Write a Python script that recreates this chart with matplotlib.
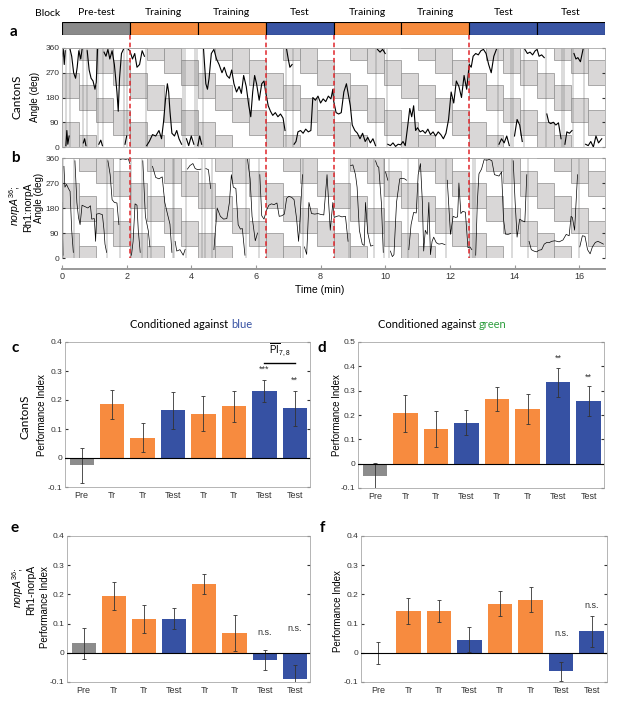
import numpy as np
import matplotlib.pyplot as plt
import matplotlib.transforms as mtransforms
from matplotlib.patches import Rectangle
from matplotlib.lines import Line2D

plt.rcParams['font.family'] = ['Liberation Sans', 'DejaVu Sans']
plt.rcParams['mathtext.fontset'] = 'custom'
plt.rcParams['mathtext.rm'] = 'Liberation Sans'
plt.rcParams['mathtext.it'] = 'Liberation Sans:italic'

# ---- data ----
block_names = ['Pre-test', 'Training', 'Training', 'Test', 'Training', 'Training', 'Test', 'Test']
block_kind = ['pre', 'tr', 'tr', 'test', 'tr', 'tr', 'test', 'test']
block_len = 2.1          # minutes per block
switch_times = [2.1, 6.3, 8.4, 12.6]
time_ticks = [0, 2, 4, 6, 8, 10, 12, 14, 16]
angle_ticks = [0, 90, 180, 270, 360]
n_cols = 32              # background pattern columns
step_deg = 45            # pattern shift per column

# fly heading traces (time min, angle deg)
trace_a = [
    (0.00, 330), (0.04, 355), (0.07, 300), (0.10, 350), (0.12, 5), (0.15, 60), (0.18, 10), (0.22, 40),
    (0.25, 355), (0.30, 330), (0.36, 270), (0.42, 250), (0.47, 290), (0.52, 350), (0.58, 320), (0.62, 355),
    (0.66, 15), (0.70, 30), (0.74, 5), (0.78, 350), (0.84, 280), (0.90, 250), (0.96, 240), (1.02, 210),
    (1.06, 235), (1.10, 355), (1.14, 10), (1.20, 25), (1.25, 5), (1.30, 345), (1.36, 330), (1.42, 355),
    (1.48, 320), (1.55, 350), (1.62, 300), (1.70, 200), (1.74, 130), (1.78, 250), (1.84, 340), (1.90, 355),
    (1.95, 10), (2.00, 40), (2.05, 355),
    (2.10, 350), (2.18, 320), (2.25, 340), (2.32, 290), (2.40, 300), (2.48, 350), (2.55, 330), (2.62, 5),
    (2.70, 20), (2.80, 45), (2.90, 40), (3.00, 60), (3.08, 30), (3.14, 90), (3.20, 170), (3.26, 230),
    (3.30, 200), (3.34, 130), (3.40, 50), (3.48, 40), (3.55, 60), (3.62, 30), (3.70, 10), (3.78, 355),
    (3.85, 30), (3.92, 5), (4.00, 40), (4.08, 10), (4.15, 355),
    (4.20, 5), (4.26, 40), (4.32, 10), (4.38, 355), (4.45, 230), (4.50, 210), (4.55, 250), (4.62, 340),
    (4.70, 355), (4.78, 320), (4.86, 300), (4.95, 270), (5.02, 290), (5.10, 260), (5.18, 250), (5.25, 280),
    (5.32, 230), (5.40, 200), (5.48, 220), (5.55, 195), (5.62, 260), (5.70, 220), (5.78, 150), (5.84, 110),
    (5.90, 200), (5.96, 260), (6.02, 230), (6.10, 170), (6.18, 230), (6.25, 240),
    (6.30, 200), (6.38, 150), (6.45, 130), (6.52, 115), (6.60, 125), (6.68, 110), (6.76, 120), (6.84, 105),
    (6.90, 60), (6.95, 355), (7.00, 320), (7.05, 290), (7.12, 300), (7.18, 10), (7.24, 20), (7.30, 55),
    (7.38, 60), (7.46, 50), (7.54, 65), (7.62, 55), (7.70, 60), (7.76, 180), (7.84, 170), (7.92, 185),
    (8.00, 160), (8.08, 175), (8.16, 165), (8.24, 185), (8.32, 175), (8.38, 210),
    (8.40, 170), (8.48, 125), (8.56, 120), (8.64, 125), (8.72, 200), (8.80, 230), (8.86, 190), (8.92, 150),
    (8.98, 80), (9.06, 60), (9.14, 50), (9.22, 30), (9.30, 50), (9.38, 20), (9.46, 35), (9.54, 15),
    (9.62, 30), (9.70, 5), (9.76, 355), (9.84, 345), (9.92, 355), (10.00, 340), (10.08, 10), (10.16, 5),
    (10.24, 15), (10.32, 2), (10.40, 10), (10.48, 8),
    (10.55, 20), (10.62, 5), (10.70, 80), (10.76, 140), (10.82, 110), (10.88, 150), (10.94, 60), (11.00, 70),
    (11.08, 55), (11.16, 60), (11.24, 50), (11.32, 65), (11.40, 45), (11.48, 55), (11.56, 40), (11.64, 55),
    (11.72, 45), (11.80, 30), (11.88, 50), (11.96, 100), (12.04, 200), (12.12, 160), (12.20, 240), (12.28, 220),
    (12.36, 180), (12.44, 260), (12.52, 210),
    (12.60, 300), (12.66, 290), (12.72, 330), (12.80, 340), (12.88, 335), (12.96, 350), (13.04, 355), (13.12, 340),
    (13.20, 300), (13.28, 270), (13.36, 330), (13.44, 355), (13.52, 10), (13.60, 30), (13.68, 15), (13.76, 40),
    (13.84, 5), (13.92, 355), (14.00, 40), (14.08, 100), (14.16, 80), (14.24, 20), (14.32, 355), (14.40, 340),
    (14.48, 345), (14.56, 335), (14.64, 350),
    (14.70, 355), (14.76, 330), (14.84, 335), (14.92, 325), (15.00, 120), (15.06, 90), (15.12, 85), (15.20, 90),
    (15.28, 80), (15.36, 88), (15.44, 30), (15.50, 355), (15.56, 10), (15.62, 55), (15.70, 50), (15.78, 60),
    (15.84, 340), (15.90, 320), (15.96, 325), (16.04, 310), (16.12, 355), (16.20, 10), (16.28, 5), (16.36, 20),
    (16.44, 0), (16.52, 40), (16.60, 15), (16.70, 30),
]

trace_b = [
    (0.00, 200), (0.03, 10), (0.06, 330), (0.09, 255), (0.14, 265), (0.20, 250), (0.25, 240), (0.30, 100),
    (0.35, 20), (0.40, 350), (0.46, 200), (0.51, 146), (0.56, 120), (0.62, 190), (0.71, 185), (0.80, 180),
    (0.88, 188), (0.92, 140), (1.00, 142), (1.04, 60), (1.07, 158), (1.15, 160), (1.25, 156), (1.30, 100),
    (1.33, 50), (1.38, 20), (1.42, 350), (1.49, 300), (1.55, 210), (1.62, 200), (1.70, 198), (1.76, 120),
    (1.80, 355), (1.88, 357), (1.98, 355), (2.05, 358), (2.10, 340), (2.15, 10), (2.20, 60), (2.26, 195),
    (2.32, 190), (2.36, 100), (2.42, 20), (2.50, 350), (2.58, 150), (2.67, 98), (2.72, 40), (2.80, 330),
    (2.90, 290), (3.00, 285), (3.10, 292), (3.18, 200), (3.26, 160), (3.34, 122), (3.40, 20), (3.45, 352),
    (3.50, 60), (3.55, 25), (3.65, 30), (3.75, 10), (3.81, 31), (3.88, 320), (3.96, 333), (4.05, 340),
    (4.12, 322), (4.20, 318), (4.30, 320), (4.38, 50), (4.45, 322), (4.53, 318), (4.60, 250), (4.70, 30),
    (4.80, 180), (4.90, 150), (5.00, 140), (5.10, 142), (5.18, 200), (5.24, 300), (5.30, 255), (5.38, 250),
    (5.45, 120), (5.52, 104), (5.58, 106), (5.66, 10), (5.74, 355), (5.82, 285), (5.88, 150), (5.98, 62),
    (6.05, 90), (6.12, 300), (6.18, 152), (6.25, 140), (6.32, 170), (6.40, 190), (6.48, 195), (6.56, 192),
    (6.65, 198), (6.72, 150), (6.80, 152), (6.88, 158), (6.95, 215), (7.02, 222), (7.11, 218), (7.18, 210),
    (7.26, 140), (7.32, 60), (7.37, 150), (7.44, 300), (7.50, 40), (7.57, 13), (7.64, 200), (7.72, 160),
    (7.82, 158), (7.92, 160), (8.00, 157), (8.10, 155), (8.20, 300), (8.30, 100), (8.38, 200),
    (8.42, 146), (8.50, 150), (8.57, 152), (8.66, 148), (8.77, 150), (8.85, 60), (8.93, 333), (9.00, 335),
    (9.08, 300), (9.13, 255), (9.20, 100), (9.29, 50), (9.35, 45), (9.39, 200), (9.46, 90), (9.55, 43),
    (9.62, 45), (9.70, 350), (9.76, 330), (9.80, 327), (9.88, 200), (9.94, 20), (10.01, 310), (10.08, 280),
    (10.16, 25), (10.22, 5), (10.27, 12), (10.35, 200), (10.45, 285), (10.52, 287), (10.60, 285), (10.66, 280),
    (10.73, 30), (10.80, 120), (10.88, 164), (10.96, 162), (11.02, 300), (11.09, 340), (11.15, 200), (11.19, 25),
    (11.24, 100), (11.30, 85), (11.35, 200), (11.40, 12), (11.45, 60), (11.50, 75), (11.58, 55), (11.66, 50),
    (11.76, 52), (11.85, 48), (11.92, 280), (12.02, 85), (12.10, 150), (12.18, 146), (12.24, 148), (12.28, 270),
    (12.34, 160), (12.40, 168), (12.48, 165), (12.56, 37), (12.62, 40), (12.68, 30), (12.74, 355), (12.80, 10),
    (12.85, 200), (12.90, 303), (12.98, 320), (13.06, 354), (13.14, 352), (13.22, 355), (13.30, 350), (13.38, 300),
    (13.46, 297), (13.52, 295), (13.60, 310), (13.66, 140), (13.72, 86), (13.80, 85), (13.88, 88), (13.96, 350),
    (14.02, 200), (14.08, 75), (14.16, 140), (14.24, 134), (14.32, 130), (14.38, 300), (14.45, 60), (14.52, 30),
    (14.60, 25), (14.68, 22), (14.76, 28), (14.84, 30), (14.92, 50), (15.00, 56), (15.07, 55), (15.15, 60),
    (15.25, 62), (15.38, 58), (15.50, 65), (15.60, 85), (15.69, 80), (15.75, 150), (15.79, 146), (15.86, 100),
    (15.95, 300), (16.02, 40), (16.10, 80), (16.18, 78), (16.26, 30), (16.34, 15), (16.41, 40), (16.50, 56),
    (16.58, 60), (16.67, 55), (16.75, 50),
]

bar_labels = ['Pre', 'Tr', 'Tr', 'Test', 'Tr', 'Tr', 'Test', 'Test']
bar_kind = ['pre', 'tr', 'tr', 'test', 'tr', 'tr', 'test', 'test']

pi_c = [-0.025, 0.185, 0.070, 0.164, 0.153, 0.178, 0.232, 0.172]
err_c = [0.060, 0.050, 0.050, 0.065, 0.060, 0.053, 0.038, 0.060]
sig_c = ['', '', '', '', '', '', '***', '**']

pi_d = [-0.050, 0.207, 0.141, 0.169, 0.266, 0.225, 0.335, 0.256]
err_d = [0.053, 0.075, 0.074, 0.050, 0.048, 0.060, 0.060, 0.062]
sig_d = ['', '', '', '', '', '', '**', '**']

pi_e = [0.032, 0.194, 0.117, 0.117, 0.235, 0.069, -0.026, -0.091]
err_e = [0.053, 0.048, 0.048, 0.035, 0.034, 0.062, 0.034, 0.048]
sig_e = ['', '', '', '', '', '', 'n.s.', 'n.s.']

pi_f = [-0.001, 0.142, 0.144, 0.045, 0.168, 0.182, -0.064, 0.073]
err_f = [0.037, 0.045, 0.038, 0.043, 0.043, 0.042, 0.031, 0.052]
sig_f = ['', '', '', '', '', '', 'n.s.', 'n.s.']

block_colors = {'pre': '#8a8a8a', 'tr': '#f68b3e', 'test': '#3a55a4'}
bar_colors = {'pre': '#8c8c8c', 'tr': '#f78b3f', 'test': '#3651a3'}
frame_gray = '#a8a8a8'
txt_gray = '#333333'
label_font = ['Lato', 'DejaVu Sans']

W, H = 617, 701
fig = plt.figure(figsize=(W / 100, H / 100), dpi=100)


def px_axes(x0, y0, x1, y1):
    # axes from pixel box (top-left origin)
    return fig.add_axes([x0 / W, 1 - y1 / H, (x1 - x0) / W, (y1 - y0) / H])


def ftext(x, y, s, **kw):
    return fig.text(x / W, 1 - y / H, s, **kw)


t_end = block_len * len(block_names)

# ---- block bar ----
ax_blk = px_axes(62, 22, 605, 35)
for i, k in enumerate(block_kind):
    ax_blk.add_patch(Rectangle((i * block_len, 0), block_len, 1, facecolor=block_colors[k],
                               edgecolor='k', lw=0.8))
    ax_blk.text((i + 0.5) * block_len, 1.35, block_names[i], ha='center', va='bottom',
                fontsize=7.5, family=label_font)
ax_blk.set_xlim(0, t_end)
ax_blk.set_ylim(0, 1)
ax_blk.axis('off')
ftext(48, 13, 'Block', ha='center', va='center', fontsize=7.5, family=label_font)


# ---- heading panels ----
def heading_panel(ax, trace, lw):
    col_w = t_end / n_cols
    for c in range(n_cols):
        base = (-step_deg * c) % 360
        for off in (base, base + 180):
            for y in (off, off - 360, off + 360):
                ax.add_patch(Rectangle((c * col_w, y), col_w, 90, facecolor='#d9d7d7',
                                       edgecolor='#8e8e8e', lw=0.5, zorder=1))
    # break the line where the heading wraps round 0/360, mark wrap with a faint line
    ts, ds = [], []
    for (t0, d0), (t1, d1) in zip(trace[:-1], trace[1:]):
        ts.append(t0)
        ds.append(d0)
        if abs(d1 - d0) > 200:
            tm = 0.5 * (t0 + t1)
            ax.plot([tm, tm], [0, 360], color='#555555', lw=0.3, zorder=2)
            ts.append(np.nan)
            ds.append(np.nan)
    ts.append(trace[-1][0])
    ds.append(trace[-1][1])
    ax.plot(ts, ds, color='k', lw=lw, zorder=3)
    ax.set_xlim(0, t_end)
    ax.set_ylim(0, 360)
    ax.set_yticks(angle_ticks)
    ax.tick_params(axis='y', direction='in', length=2, labelsize=6, colors=txt_gray,
                   right=True, pad=2)
    for s in ax.spines.values():
        s.set_color(frame_gray)
        s.set_linewidth(0.6)
        s.set_zorder(4)


ax_a = px_axes(62, 48, 605, 147)
heading_panel(ax_a, trace_a, 0.8)
ax_a.set_xticks([])

ax_b = px_axes(62, 158, 605, 258)
heading_panel(ax_b, trace_b, 0.5)
ax_b.set_xticks(time_ticks)
ax_b.spines['bottom'].set_position(('outward', 8))
ax_b.spines['bottom'].set_linewidth(1.4)
ax_b.spines['bottom'].set_color('#999999')
ax_b.axhline(0, color=frame_gray, lw=0.6, zorder=4)
ax_b.tick_params(axis='x', direction='in', length=3, labelsize=6.5, colors=txt_gray, pad=2)
ax_b.tick_params(axis='x', color='#999999')
ftext(320, 290, 'Time (min)', ha='center', va='center', fontsize=7.5)

# red dashed block switches across panels a and b
blend = mtransforms.blended_transform_factory(ax_b.transData, fig.transFigure)
for t in switch_times:
    fig.add_artist(Line2D([t, t], [1 - 35 / H, 1 - 258 / H], transform=blend,
                          color='#e0262b', lw=1.1, ls=(0, (3, 2)), zorder=10))

ftext(17, 97, 'CantonS', rotation=90, ha='center', va='center', fontsize=8.5, family=label_font)
ftext(35, 97, 'Angle (deg)', rotation=90, ha='center', va='center', fontsize=7)
ftext(15, 206, r'$norpA^{36}$;', rotation=90, ha='center', va='center', fontsize=7.5)
ftext(28, 207, 'Rh1:norpA', rotation=90, ha='center', va='center', fontsize=7.5)
ftext(39, 198, 'Angle (deg)', rotation=90, ha='center', va='center', fontsize=7)


# ---- performance index bars ----
def pi_panel(ax, vals, errs, sigs, ymax):
    x = list(range(len(vals)))
    cols = [bar_colors[k] for k in bar_kind]
    ax.bar(x, vals, width=0.8, color=cols, zorder=2)
    ax.errorbar(x, vals, yerr=errs, fmt='none', ecolor='#333333', elinewidth=0.6,
                capsize=1.5, capthick=0.6, zorder=3)
    ax.axhline(0, color='k', lw=0.8, zorder=4)
    for xi, v, e, s in zip(x, vals, errs, sigs):
        if s:
            top = max(v + e, e)
            ax.text(xi, top + 0.02, s, ha='center', va='bottom', fontsize=6.5, color=txt_gray)
    ax.set_xlim(-0.55, len(vals) - 0.5)
    ax.set_ylim(-0.1, ymax)
    yt = [round(-0.1 + 0.1 * i, 1) for i in range(int(round((ymax + 0.1) / 0.1)) + 1)]
    ax.set_yticks(yt)
    ax.set_yticklabels(['0' if v == 0 else ('%g' % v) for v in yt])
    ax.set_xticks(x)
    ax.set_xticklabels(bar_labels)
    ax.tick_params(axis='x', length=0, labelsize=6.5, colors=txt_gray, pad=3)
    ax.tick_params(axis='y', direction='in', length=2, labelsize=6, colors=txt_gray,
                   right=True, pad=2)
    for s in ax.spines.values():
        s.set_color(frame_gray)
        s.set_linewidth(0.6)


ax_c = px_axes(65, 342, 310, 487)
pi_panel(ax_c, pi_c, err_c, sig_c, 0.4)
ax_c.plot([6, 7], [0.328, 0.328], color='k', lw=1.0)
ax_c.text(6.5, 0.345, r'$\overline{\mathrm{PI}}_{7,8}$', ha='center', va='bottom', fontsize=7)

ax_d = px_axes(358, 342, 604, 488)
pi_panel(ax_d, pi_d, err_d, sig_d, 0.5)

ax_e = px_axes(67, 536, 310, 682)
pi_panel(ax_e, pi_e, err_e, sig_e, 0.4)

ax_f = px_axes(361, 536, 607, 682)
pi_panel(ax_f, pi_f, err_f, sig_f, 0.4)

# titles with coloured word
t1 = ftext(130, 325, 'Conditioned against ', ha='left', va='center', fontsize=8, family=label_font)
t2 = ftext(378, 325, 'Conditioned against ', ha='left', va='center', fontsize=8, family=label_font)

ftext(25, 417, 'CantonS', rotation=90, ha='center', va='center', fontsize=8.5, family=label_font)
ftext(42, 415, 'Performance Index', rotation=90, ha='center', va='center', fontsize=7)
ftext(337, 415, 'Performance Index', rotation=90, ha='center', va='center', fontsize=7)
ftext(18, 588, r'$norpA^{36}$;', rotation=90, ha='center', va='center', fontsize=7.5)
ftext(31, 590, 'Rh1-norpA', rotation=90, ha='center', va='center', fontsize=7.5)
ftext(45, 607, 'Performance Index', rotation=90, ha='center', va='center', fontsize=7)
ftext(338, 611, 'Performance Index', rotation=90, ha='center', va='center', fontsize=7)

for lab, x, y in [('a', 13, 32), ('b', 15, 158), ('c', 15, 348), ('d', 322, 348),
                  ('e', 15, 528), ('f', 322, 528)]:
    ftext(x, y, lab, ha='center', va='center', fontsize=11, fontweight='bold', family=label_font)

# place the coloured words right after the title text
fig.canvas.draw()
r = fig.canvas.get_renderer()
for tt, word, col in [(t1, 'blue', '#3651a3'), (t2, 'green', '#2e9e3e')]:
    bb = tt.get_window_extent(r)
    fig.text(bb.x1 / fig.bbox.width, tt.get_position()[1], word, color=col, ha='left',
             va='center', fontsize=8, family=label_font)

fig.savefig('out.png', dpi=100)
